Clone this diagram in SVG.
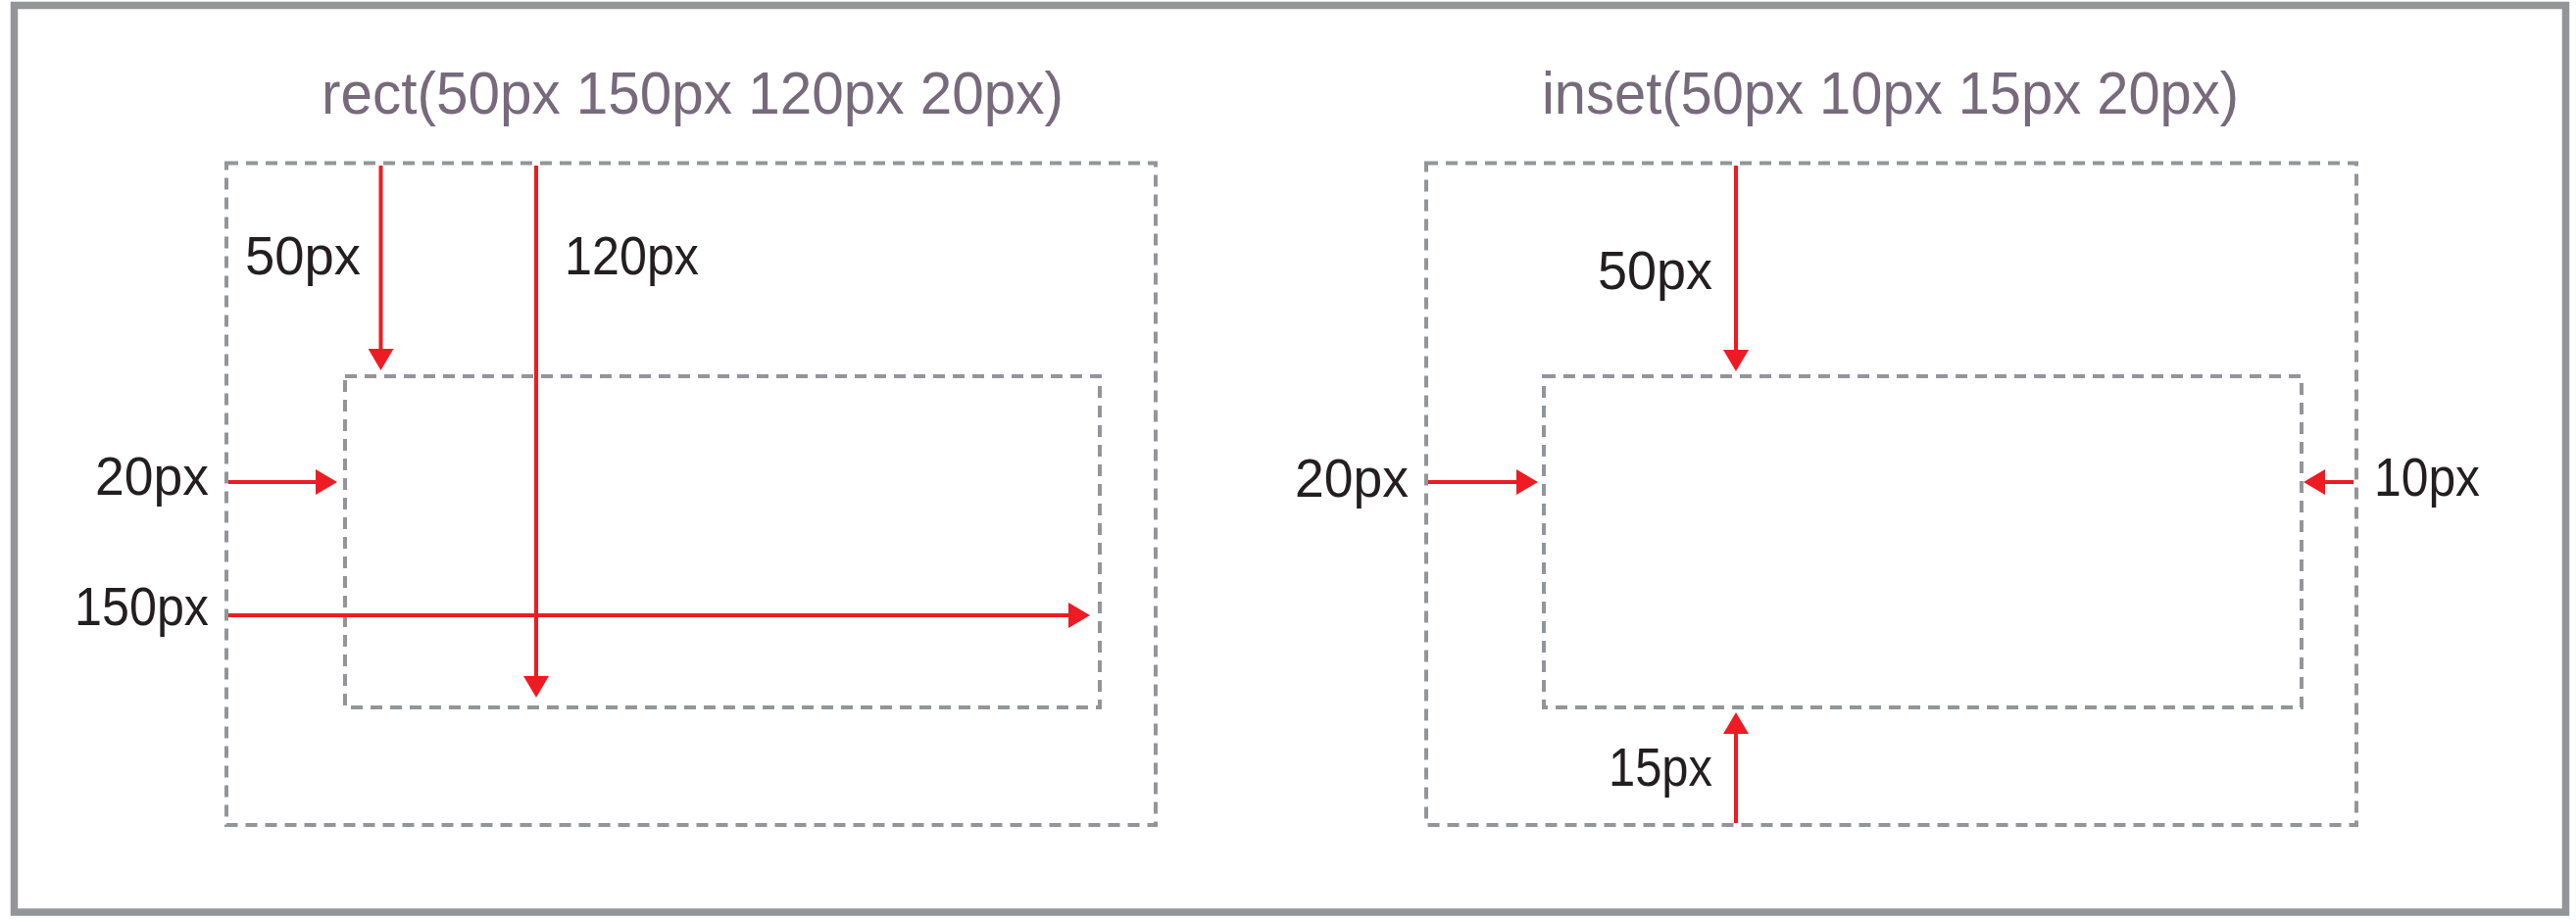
<svg xmlns="http://www.w3.org/2000/svg" width="2628" height="940" viewBox="0 0 2628 940">
<style>
.frame{fill:none;stroke:#939598;stroke-width:7.5}
.dash{fill:none;stroke:#939598;stroke-width:4;stroke-dasharray:12 8}
.arr{stroke:#ed1c24;stroke-width:4;fill:none;marker-end:url(#ah)}
.title{font-family:"Liberation Sans",Arial,sans-serif;font-size:61px;fill:#766a7b;lengthAdjust:spacingAndGlyphs}
.lbl{font-family:"Liberation Sans",Arial,sans-serif;font-size:56px;fill:#231f20}
</style>
<defs>
<marker id="ah" viewBox="0 0 22 26" markerWidth="22" markerHeight="26" refX="0" refY="13" orient="auto" markerUnits="userSpaceOnUse">
<path d="M0,0 L22,13 L0,26 Z" fill="#ed1c24"/>
</marker>
</defs>
<rect width="2628" height="940" fill="#ffffff"/>
<rect class="frame" x="14.5" y="5.5" width="2603" height="925.5"/>
<g id="rect-panel">
<text class="title" x="328" y="116" textLength="757" lengthAdjust="spacingAndGlyphs">rect(50px 150px 120px 20px)</text>
<g id="rect-outer"><rect class="dash" x="231" y="166.5" width="948" height="675.5"/></g>
<g id="rect-inner"><rect class="dash" x="352" y="384" width="770" height="338"/></g>
</g>
<g id="inset-panel">
<text class="title" x="1573" y="116" textLength="711" lengthAdjust="spacingAndGlyphs">inset(50px 10px 15px 20px)</text>
<g id="inset-outer"><rect class="dash" x="1455" y="166.5" width="949" height="675.5"/></g>
<g id="inset-inner"><rect class="dash" x="1575" y="384" width="773" height="338"/></g>
</g>
<g id="connectors">
<line class="arr" x1="388.5" y1="169" x2="388.5" y2="356"/>
<line class="arr" x1="547" y1="169" x2="547" y2="690"/>
<line class="arr" x1="233" y1="492" x2="322" y2="492"/>
<line class="arr" x1="233" y1="628" x2="1090" y2="628"/>
<line class="arr" x1="1771" y1="169" x2="1771" y2="357"/>
<line class="arr" x1="1771" y1="840" x2="1771" y2="749"/>
<line class="arr" x1="1457" y1="492" x2="1547" y2="492"/>
<line class="arr" x1="2401" y1="492" x2="2372" y2="492"/>
</g>
<g id="labels">
<text class="lbl" x="250" y="280" textLength="118" lengthAdjust="spacingAndGlyphs">50px</text>
<text class="lbl" x="576" y="280" textLength="137" lengthAdjust="spacingAndGlyphs">120px</text>
<text class="lbl" x="97" y="505" textLength="116" lengthAdjust="spacingAndGlyphs">20px</text>
<text class="lbl" x="76" y="638" textLength="137" lengthAdjust="spacingAndGlyphs">150px</text>
<text class="lbl" x="1630" y="295" textLength="117" lengthAdjust="spacingAndGlyphs">50px</text>
<text class="lbl" x="1321" y="507" textLength="116" lengthAdjust="spacingAndGlyphs">20px</text>
<text class="lbl" x="2422" y="506" textLength="108" lengthAdjust="spacingAndGlyphs">10px</text>
<text class="lbl" x="1641" y="802" textLength="106" lengthAdjust="spacingAndGlyphs">15px</text>
</g>
</svg>
